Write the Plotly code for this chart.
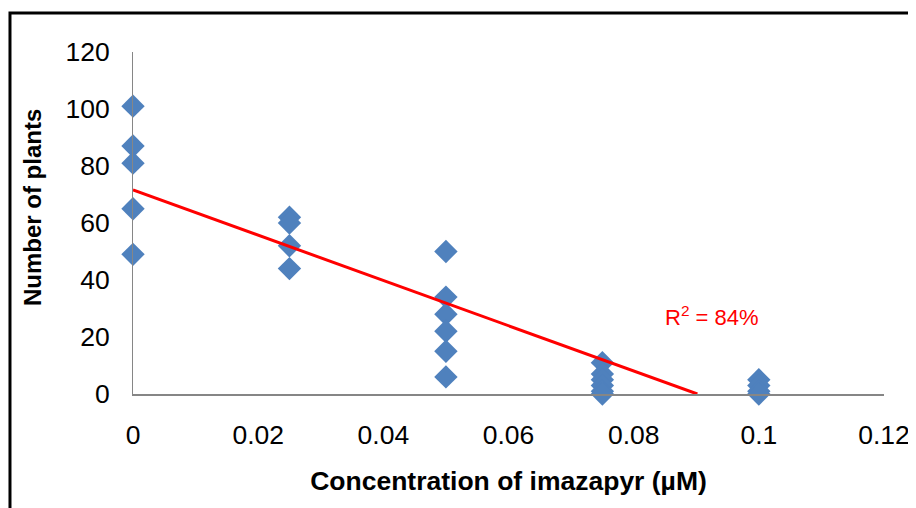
import plotly.graph_objects as go

# Data
conc_0 = [0, 0, 0, 0, 0]
plants_0 = [101, 87, 81, 65, 49]
conc_025 = [0.025, 0.025, 0.025, 0.025]
plants_025 = [62, 60, 52, 44]
conc_05 = [0.05, 0.05, 0.05, 0.05, 0.05, 0.05]
plants_05 = [50, 34, 28, 22, 15, 6]
conc_075 = [0.075, 0.075, 0.075, 0.075, 0.075, 0.075]
plants_075 = [11, 7, 5, 3, 1, 0]
conc_1 = [0.1, 0.1, 0.1, 0.1]
plants_1 = [5, 3, 1, 0]

trend_intercept = 71.6
trend_slope = -794.0
r2_label = "R<sup>2</sup> = 84%"

x_ticks = [0, 0.02, 0.04, 0.06, 0.08, 0.1, 0.12]
x_tick_text = ["0", "0.02", "0.04", "0.06", "0.08", "0.1", "0.12"]
y_ticks = [0, 20, 40, 60, 80, 100, 120]
x_title = "Concentration of imazapyr (µM)"
y_title = "Number of plants"

xs = conc_0 + conc_025 + conc_05 + conc_075 + conc_1
ys = plants_0 + plants_025 + plants_05 + plants_075 + plants_1

FONT = "Liberation Sans, Arial, sans-serif"

fig = go.Figure()
trend_x = [0, -trend_intercept / trend_slope]
trend_y = [trend_intercept + trend_slope * v for v in trend_x]

fig.add_trace(go.Scatter(
    x=xs, y=ys, mode="markers",
    marker=dict(symbol="diamond", size=18, color="#4F81BD"),
    cliponaxis=False, showlegend=False,
))
fig.add_trace(go.Scatter(
    x=trend_x, y=trend_y, mode="lines",
    line=dict(color="#FF0000", width=3),
    cliponaxis=False, showlegend=False,
))

fig.add_annotation(
    x=0.0925, y=27.5, xref="x", yref="y", text=r2_label, showarrow=False,
    font=dict(family=FONT, size=22, color="#FF0000"),
)

# y-axis title (placed slightly above the axis centre, as in the reference)
fig.add_annotation(
    x=-0.133, y=0.544, xref="paper", yref="paper", text=y_title,
    textangle=-90, showarrow=False, xanchor="center", yanchor="middle",
    font=dict(family=FONT, size=24, color="black", weight="bold"),
)

# outer frame (partially visible, like the cropped reference)
fig.add_shape(
    type="rect", xref="paper", yref="paper",
    x0=-0.1638, x1=1.2, y0=-0.6, y1=1.114,
    line=dict(color="black", width=3), fillcolor="rgba(0,0,0,0)",
)

fig.update_layout(
    width=908, height=500,
    margin=dict(l=125, r=32, t=44, b=114, autoexpand=False),
    paper_bgcolor="white", plot_bgcolor="white",
    font=dict(family=FONT, color="black"),
    xaxis=dict(
        range=[0, 0.12], tickvals=x_ticks, ticktext=x_tick_text,
        automargin=False,
        showgrid=False, zeroline=False, showline=True,
        linecolor="#868686", linewidth=2, ticks="",
        ticklabelstandoff=16,
        tickfont=dict(family=FONT, size=26.5, color="black"),
        title=dict(text=x_title,
                   font=dict(family=FONT, size=26.5, color="black", weight="bold"),
                   standoff=23),
    ),
    yaxis=dict(
        range=[0, 120], tickvals=y_ticks,
        automargin=False,
        showgrid=False, zeroline=False, showline=True,
        linecolor="#868686", linewidth=1, ticks="",
        ticklabelstandoff=17,
        tickfont=dict(family=FONT, size=26.5, color="black"),
    ),
)

fig.write_html("out.html")
